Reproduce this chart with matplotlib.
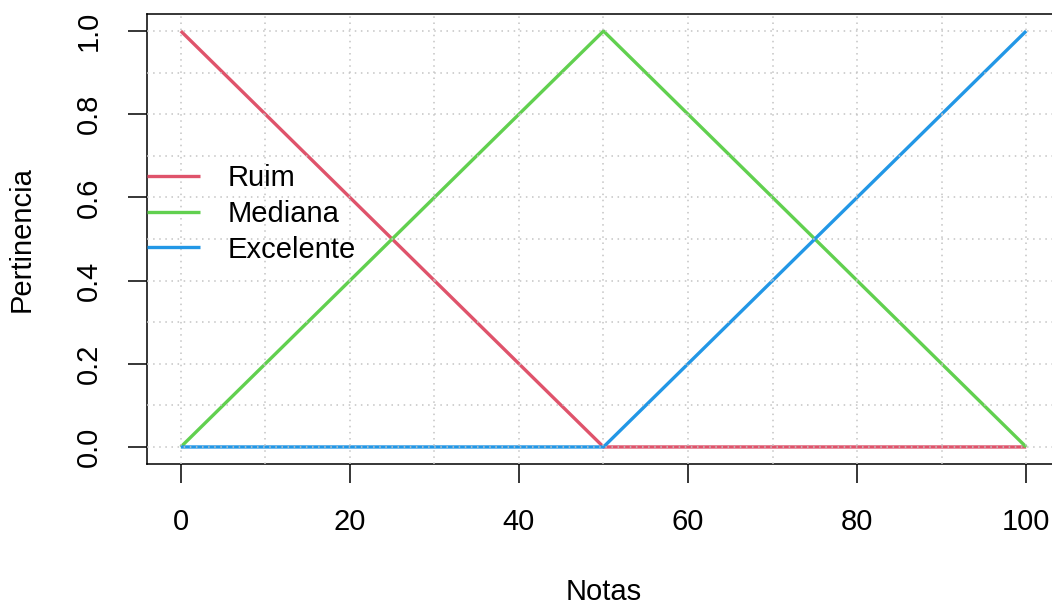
import numpy as np
import matplotlib
matplotlib.use("Agg")
import matplotlib.pyplot as plt
from matplotlib.ticker import MultipleLocator

plt.rcParams['font.family'] = ['Liberation Sans', 'DejaVu Sans']

notas = [0, 50, 100]
ruim = [1, 0, 0]
mediana = [0, 1, 0]
excelente = [0, 0, 1]
series = ["Ruim", "Mediana", "Excelente"]
cores = ["#DF536B", "#61D04F", "#2297E6"]

fs = 21
W, H = 1052, 604
fig = plt.figure(figsize=(W / 100, H / 100), dpi=100)
# plot region spills past the right edge like the reference
ax = fig.add_axes([147 / W, (H - 463.6) / H, (1060 - 147) / W, (463.6 - 14.4) / H])

for vals, nome, cor in zip([ruim, mediana, excelente], series, cores):
    ax.plot(notas, vals, color=cor, lw=2.4, label=nome, zorder=2, solid_capstyle='butt')

ax.set_xlim(-4, 104)
ax.set_ylim(-0.04, 1.04)
ax.xaxis.set_major_locator(MultipleLocator(20))
ax.xaxis.set_minor_locator(MultipleLocator(10))
ax.yaxis.set_major_locator(MultipleLocator(0.2))
ax.yaxis.set_minor_locator(MultipleLocator(0.1))
ax.set_yticks(np.arange(0, 1.01, 0.2))
ax.set_yticklabels(["%.1f" % v for v in np.arange(0, 1.01, 0.2)], rotation=90, va='center')

ax.set_axisbelow(False)
ax.grid(which='both', color='#c4c4c4', linestyle=(0, (1, 3)), lw=1.1, zorder=3)
ax.tick_params(which='major', length=14, width=1.1, pad=18, labelsize=fs, direction='out')
ax.tick_params(which='minor', length=0)
for s in ax.spines.values():
    s.set_linewidth(1.1)

ax.set_xlabel("Notas", fontsize=fs, labelpad=30)
ax.set_ylabel("Pertinencia", fontsize=fs, labelpad=28)

ax.legend(loc='upper left', bbox_to_anchor=(0, 0.666), frameon=False, fontsize=fs,
          borderpad=0, borderaxespad=0, handlelength=1.8, handletextpad=0.95,
          labelspacing=0.26)

fig.savefig("out.png", dpi=100)
